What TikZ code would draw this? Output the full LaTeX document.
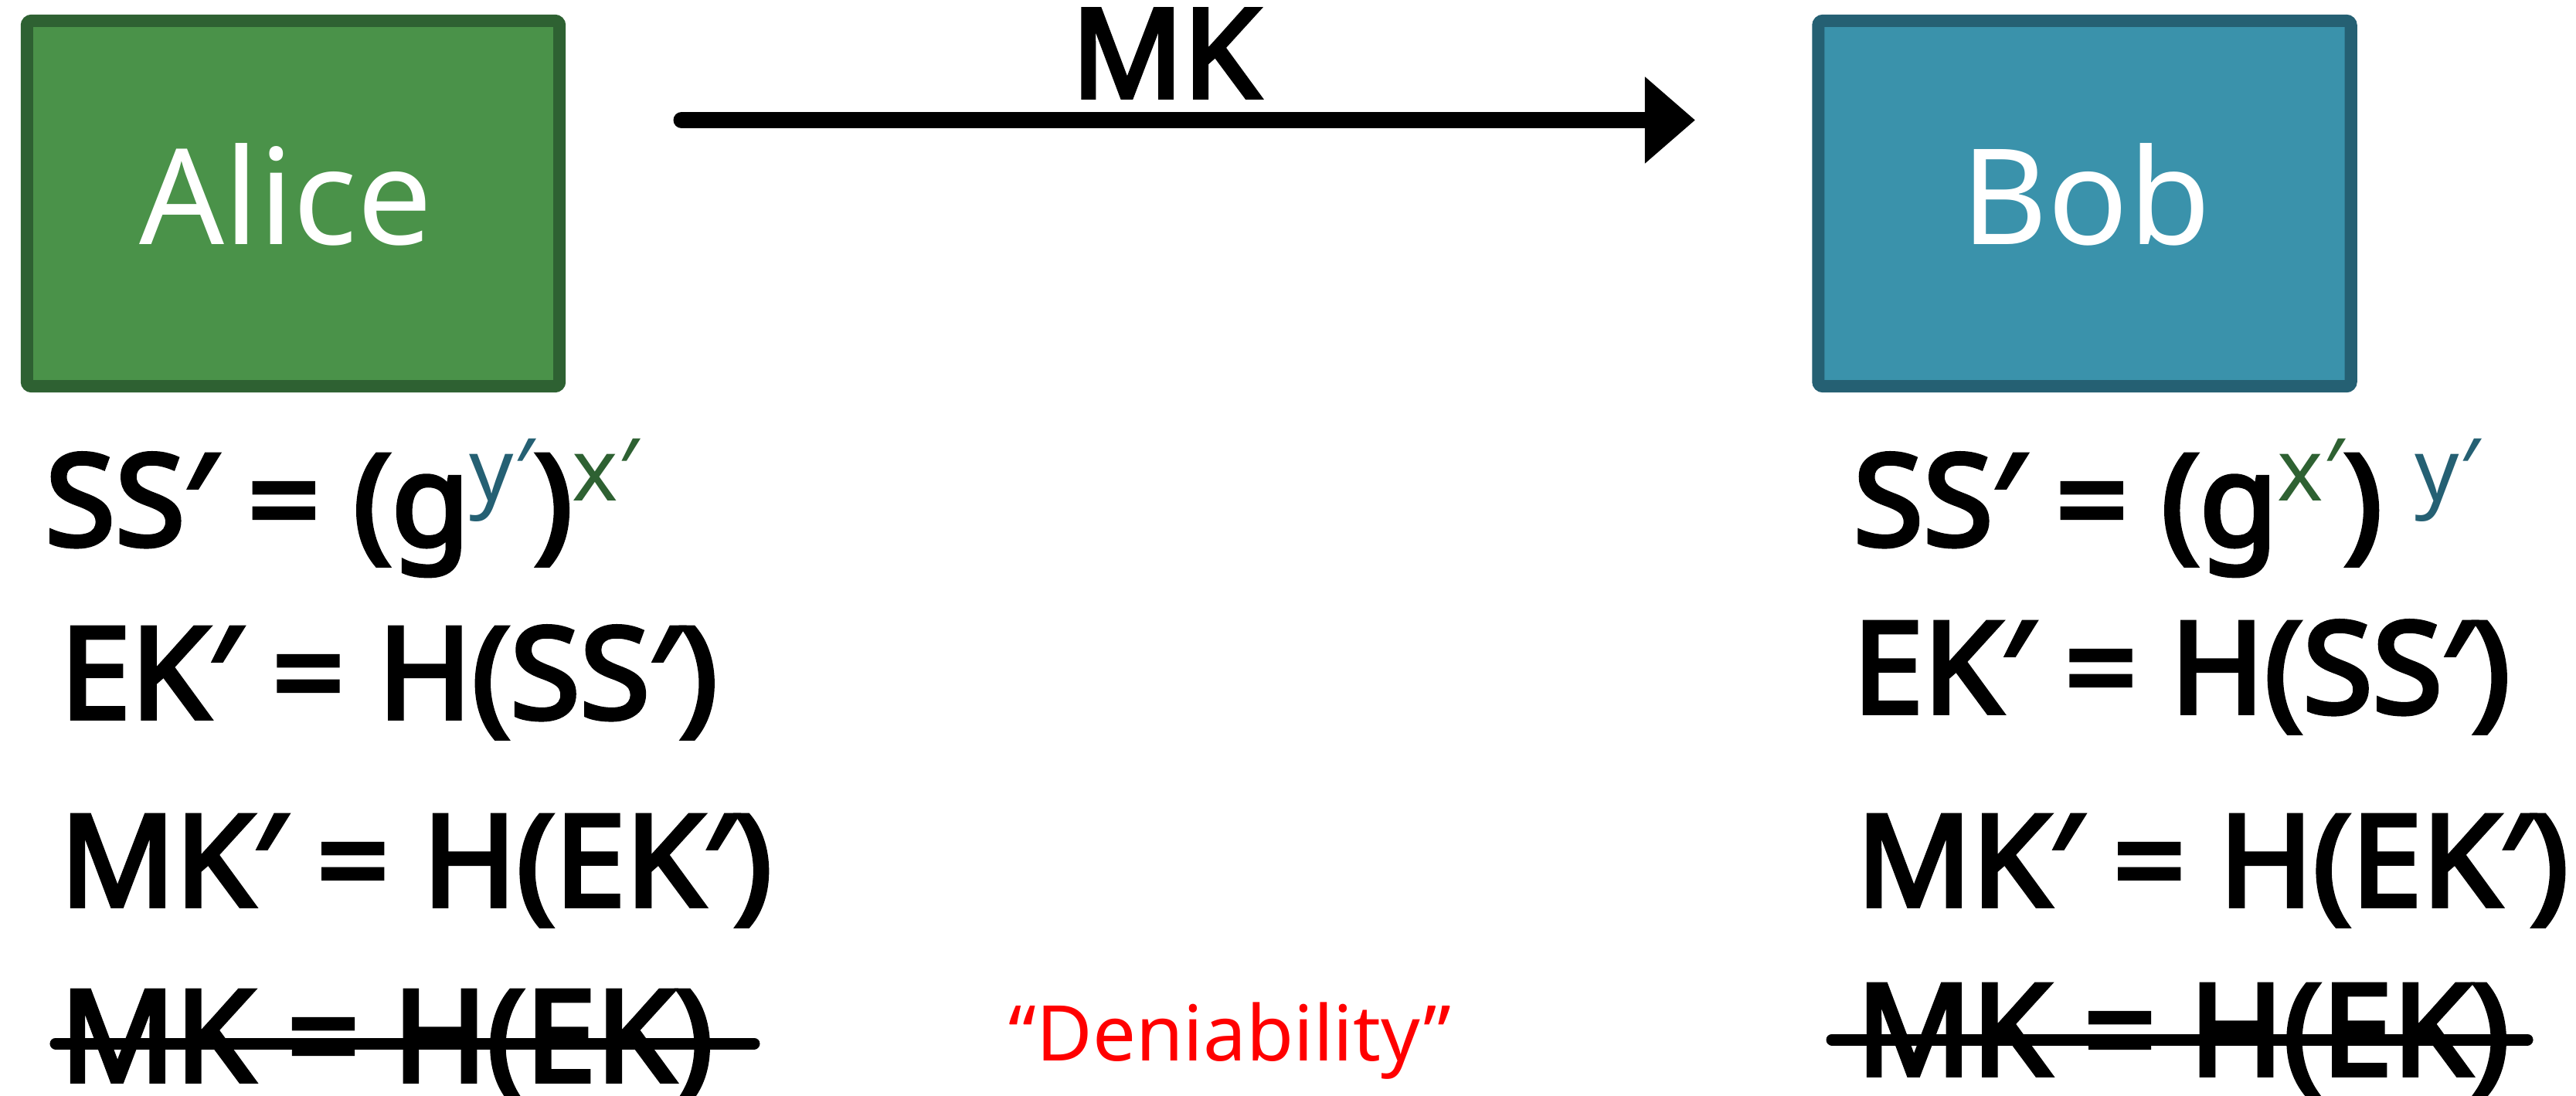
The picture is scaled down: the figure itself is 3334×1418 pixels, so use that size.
\documentclass[tikz,border=0pt]{standalone}
\usepackage{fontspec}
\setmainfont{Noto Sans}
\newfontfamily\heavyfont{Noto Sans}[FakeBold=3.5]
\usetikzlibrary{arrows.meta}
\definecolor{alicefill}{HTML}{4A9249}
\definecolor{aliceline}{HTML}{2E6132}
\definecolor{bobfill}{HTML}{3A92AB}
\definecolor{bobline}{HTML}{256073}
\definecolor{denyred}{HTML}{FF0000}
\newcommand{\expo}[2]{\raisebox{0.57cm}{\fontsize{32}{34}\normalfont\selectfont\color{#1}#2}}
\tikzset{
  partybox/.style={draw, line width=0.16cm, rounded corners=0.06cm,
    minimum width=6.89cm, minimum height=4.73cm, inner sep=0pt},
  alicebox/.style={partybox, fill=alicefill, draw=aliceline},
  bobbox/.style={partybox, fill=bobfill, draw=bobline},
  nametext/.style={anchor=base, inner sep=0pt, text=white,
    font=\fontsize{49}{55}\selectfont},
  eqtext/.style={anchor=base west, inner sep=0pt,
    font=\heavyfont\fontsize{46.8}{50}\selectfont},
  mklabel/.style={anchor=base west, inner sep=0pt,
    font=\heavyfont\fontsize{45.4}{50}\selectfont},
  mkarrow/.style={line width=0.21cm, line cap=round,
    -{Triangle[length=0.65cm, width=1.08cm]}},
  strikeline/.style={line width=0.15cm, line cap=round},
  denytext/.style={anchor=base west, inner sep=0pt, text=denyred,
    font=\fontsize{28.3}{32}\selectfont}
}
\begin{document}
\begin{tikzpicture}[x=0.01cm, y=-0.01cm]
\useasboundingbox (0,0) rectangle (3334,1418);
% party boxes
\node[alicebox] (alice) at (379.5,263.5) {};
\node[nametext] (alicetxt) at (370,316) {Alice};
\node[bobbox] (bob) at (2698,263.5) {};
\node[nametext] (bobtxt) at (2700,316) {Bob};
% message arrow
\coordinate (mks) at (882,155.5);
\coordinate (mke) at (2194,155.5);
\draw[mkarrow] (mks) -- (mke);
\node[mklabel] (mk) at (1386,126) {MK};
% Alice side
\node[eqtext] (ass) at (58,706) {SS′ = (g\expo{bobline}{y′})\expo{aliceline}{x′}};
\node[eqtext] (aek) at (77,930) {EK′ = H(SS′)};
\node[eqtext] (amkp) at (77,1173) {MK′ = H(EK′)};
\node[eqtext] (amk) at (77,1400) {MK = H(EK)};
\coordinate (als) at (72,1351);
\coordinate (ale) at (976,1351);
\draw[strikeline] (als) -- (ale);
% Bob side
\node[eqtext] (bss) at (2398,706) {SS′ = (g\expo{aliceline}{x′}) \expo{bobline}{y′}};
\node[eqtext] (bek) at (2397,923) {EK′ = H(SS′)};
\node[eqtext] (bmkp) at (2402,1173) {MK′ = H(EK′)};
\node[eqtext] (bmk) at (2402,1392) {MK = H(EK)};
\coordinate (bls) at (2371,1346);
\coordinate (ble) at (3271,1346);
\draw[strikeline] (bls) -- (ble);
% deniability
\node[denytext] (deny) at (1305,1373) {“Deniability”};
\end{tikzpicture}
\end{document}
